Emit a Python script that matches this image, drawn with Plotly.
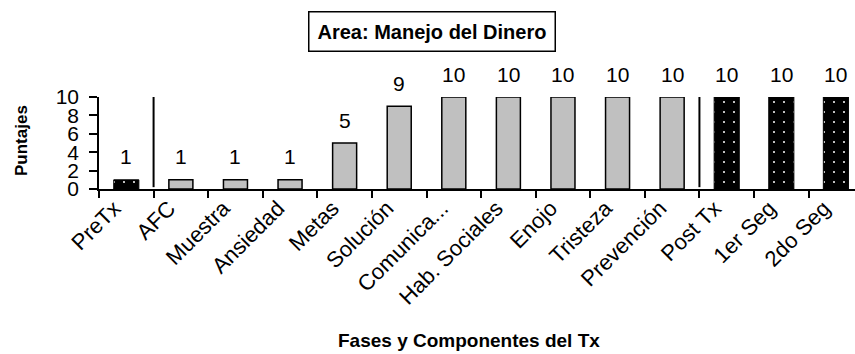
import plotly.graph_objects as go

# Phases and components of the treatment, with the score for each
categories = ["PreTx", "AFC", "Muestra", "Ansiedad", "Metas", "Solución",
              "Comunica...", "Hab. Sociales", "Enojo", "Tristeza", "Prevención",
              "Post Tx", "1er Seg", "2do Seg"]
scores = [1, 1, 1, 1, 5, 9, 10, 10, 10, 10, 10, 10, 10, 10]
# which categories are assessment points (pre / post / follow-up)
assessment = ["PreTx", "Post Tx", "1er Seg", "2do Seg"]

title_text = "Area: Manejo del Dinero"
x_title = "Fases y Componentes del Tx"
y_title = "Puntajes"

FONT = "Arial, Liberation Sans, sans-serif"

assess_vals = [v if c in assessment else None for c, v in zip(categories, scores)]
treat_vals = [None if c in assessment else v for c, v in zip(categories, scores)]

fig = go.Figure()
fig.add_trace(go.Bar(
    x=categories, y=treat_vals, width=0.44,
    marker=dict(color="#c0c0c0", line=dict(color="black", width=1.5)),
    hoverinfo="x+y",
))
fig.add_trace(go.Bar(
    x=categories, y=assess_vals, width=0.46,
    marker=dict(color="black", line=dict(color="black", width=1),
                pattern=dict(shape=".", fillmode="replace", bgcolor="black",
                             fgcolor="white", size=10, solidity=0.03)),
    hoverinfo="x+y",
))

# value labels above each bar
for c, v in zip(categories, scores):
    fig.add_annotation(x=c, y=v, text=str(v), showarrow=False, yshift=23,
                       yanchor="middle", font=dict(family=FONT, size=21, color="black"))

# phase separators
for xpos in [0.5, 10.5]:
    fig.add_shape(type="line", xref="x", yref="y", x0=xpos, x1=xpos, y0=0.2, y1=10.2,
                  line=dict(color="black", width=2))

# boxed title
fig.add_annotation(xref="paper", yref="paper", x=(432 - 99) / 756, y=1 + (97 - 31) / 92,
                   text="<b>" + title_text + "</b>", showarrow=False,
                   xanchor="center", yanchor="middle",
                   font=dict(family=FONT, size=20, color="black"),
                   bordercolor="black", borderwidth=1.5, borderpad=8, bgcolor="white")
# axis titles
fig.add_annotation(xref="paper", yref="paper", x=(469 - 99) / 756, y=-(340 - 189) / 92,
                   text="<b>" + x_title + "</b>", showarrow=False,
                   xanchor="center", yanchor="middle",
                   font=dict(family=FONT, size=19, color="black"))
fig.add_annotation(xref="paper", yref="paper", x=-(99 - 21) / 756, y=(189 - 141) / 92,
                   text="<b>" + y_title + "</b>", showarrow=False, textangle=-90,
                   xanchor="center", yanchor="middle",
                   font=dict(family=FONT, size=17, color="black"))

fig.update_layout(
    width=855, height=354,
    margin=dict(l=99, r=0, t=97, b=165),
    paper_bgcolor="white", plot_bgcolor="white",
    barmode="overlay", showlegend=False,
    font=dict(family=FONT, color="black"),
)
fig.update_xaxes(
    type="category", range=[-0.5, 13.35],
    showline=True, linecolor="black", linewidth=1.5,
    ticks="outside", tickson="boundaries", ticklen=7, tickwidth=1.5, tickcolor="black",
    tickangle=-45, ticklabelshift=-12, ticklabelstandoff=-4,
    tickfont=dict(family=FONT, size=22, color="black"),
    showgrid=False, zeroline=False,
)
fig.update_yaxes(
    range=[0, 10], tickvals=[0, 2, 4, 6, 8, 10],
    showline=True, linecolor="black", linewidth=1.5,
    ticks="outside", ticklen=8, tickwidth=1.5, tickcolor="black",
    ticklabelstandoff=6,
    tickfont=dict(family=FONT, size=21, color="black"),
    showgrid=False, zeroline=False,
)

fig.write_html("out.html")
